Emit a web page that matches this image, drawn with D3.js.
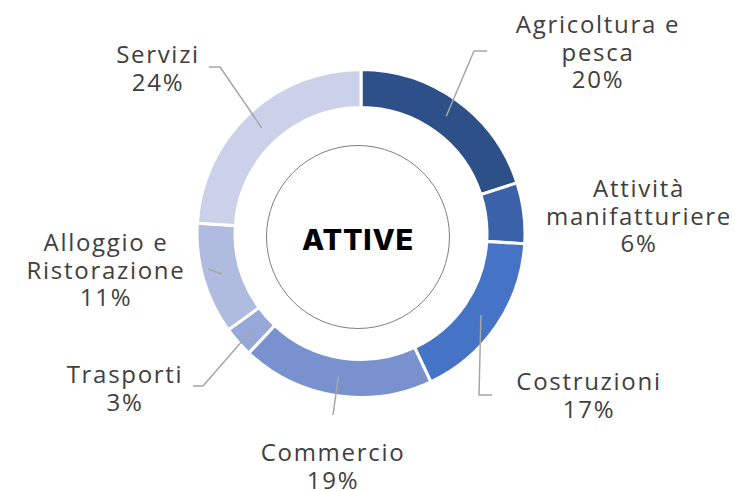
<!DOCTYPE html>
<html>
<head>
<meta charset="utf-8">
<script src="https://cdn.jsdelivr.net/npm/d3@7"></script>
<style>
  html, body { margin: 0; padding: 0; background: #fff; }
  svg { display: block; }
  .lbl { font-family: "Open Sans", "Noto Sans", sans-serif; font-size: 24px; letter-spacing: 1.7px; fill: #404040; }
  .center { font-family: Inter, "DejaVu Sans", sans-serif; font-weight: 800; font-size: 29px; letter-spacing: 0.8px; fill: #000; }
</style>
</head>
<body>
<div id="chart"></div>
<script>
// data
var categories = ['Agricoltura e pesca', 'Attività manifatturiere', 'Costruzioni', 'Commercio', 'Trasporti', 'Alloggio e Ristorazione', 'Servizi'];
var values = [20, 6, 17, 19, 3, 11, 24];
var labelLines = [
  ['Agricoltura e', 'pesca'],
  ['Attività', 'manifatturiere'],
  ['Costruzioni'],
  ['Commercio'],
  ['Trasporti'],
  ['Alloggio e', 'Ristorazione'],
  ['Servizi']
];
var colors = ['#2E5089', '#3B62A9', '#4573C5', '#7991CF', '#95A8D7', '#B0BCDF', '#CAD1E9'];
var centerTitle = 'ATTIVE';

// layout (label anchor = center x, baseline of first line; leader = elbow + end)
var labelPos = [
  {x: 598, y: 33, elbow: [474, 51], end: [487, 51]},
  {x: 639, y: 197, elbow: null, end: null},
  {x: 589, y: 390, elbow: [479, 395], end: [492, 395]},
  {x: 333, y: 461, elbow: null, end: [333, 415]},
  {x: 125, y: 383, elbow: [203, 386], end: [193, 386]},
  {x: 106, y: 251, elbow: null, end: [208, 269]},
  {x: 158, y: 63, elbow: [220, 67], end: [209, 67]}
];

var width = 735, height = 491;
var cx = 361, cy = 233.5;
var rOuter = 164, rInner = 126;
var lineH = 27.5;

var svg = d3.select('#chart').append('svg')
  .attr('width', width)
  .attr('height', height);

var pie = d3.pie().sort(null).value(function(d) { return d; });
var arcs = pie(values);

var arc = d3.arc().innerRadius(rInner).outerRadius(rOuter);
var mid = d3.arc().innerRadius((rInner + rOuter) / 2).outerRadius((rInner + rOuter) / 2);

var g = svg.append('g').attr('transform', 'translate(' + cx + ',' + cy + ')');

g.selectAll('path.slice')
  .data(arcs)
  .enter().append('path')
  .attr('class', 'slice')
  .attr('d', arc)
  .attr('fill', function(d, i) { return colors[i]; })
  .attr('stroke', '#fff')
  .attr('stroke-width', 3);

// inner thin circle + title
svg.append('circle')
  .attr('cx', 358).attr('cy', 237).attr('r', 91.5)
  .attr('fill', 'none')
  .attr('stroke', '#7f7f7f')
  .attr('stroke-width', 1);

svg.append('text')
  .attr('class', 'center')
  .attr('x', 358).attr('y', 250)
  .attr('text-anchor', 'middle')
  .text(centerTitle);

// leader lines
arcs.forEach(function(d, i) {
  var p = labelPos[i];
  if (!p.end) return;
  var c = mid.centroid(d);
  var pts = [[c[0] + cx, c[1] + cy]];
  if (p.elbow) pts.push(p.elbow);
  pts.push(p.end);
  svg.append('path')
    .attr('d', d3.line()(pts))
    .attr('fill', 'none')
    .attr('stroke', '#A6A6A6')
    .attr('stroke-width', 1.5);
});

// labels, one text per line
arcs.forEach(function(d, i) {
  var p = labelPos[i];
  var lines = labelLines[i].concat([values[i] + '%']);
  lines.forEach(function(s, k) {
    svg.append('text')
      .attr('class', 'lbl')
      .attr('text-anchor', 'middle')
      .attr('x', p.x)
      .attr('y', p.y + k * lineH)
      .text(s);
  });
});
</script>
</body>
</html>
